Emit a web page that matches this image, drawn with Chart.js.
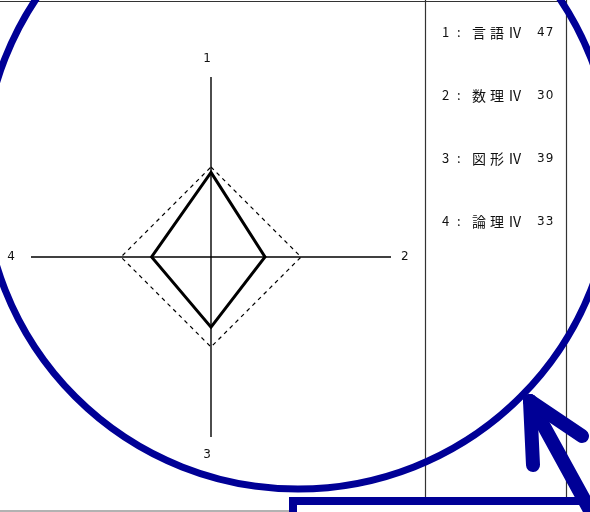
<!DOCTYPE html>
<html>
<head>
<meta charset="utf-8">
<script src="https://cdn.jsdelivr.net/npm/chart.js@4/dist/chart.umd.min.js"></script>
<style>
  html, body { margin: 0; padding: 0; background: #fff; }
  #wrap { position: relative; width: 590px; height: 512px; overflow: hidden; background: #fff; }
  #radar { position: absolute; left: 0; top: 0; }
  .row { position: absolute; left: 440px; height: 16px; line-height: 16px;
         font-family: "Noto Sans CJK JP", "DejaVu Sans", sans-serif; font-size: 13px; color: #111; white-space: nowrap; }
  .row span { position: absolute; top: 0; }
  .row .no { left: 2px; }
  .row .sep { left: 17px; }
  .row .name { left: 32px; font-size: 14px; letter-spacing: 4px; }
  .row .val { left: 97px; letter-spacing: 1px; font-family: "DejaVu Sans", sans-serif; font-size: 12px; }
  svg { position: absolute; left: 0; top: 0; }
</style>
</head>
<body>
<div id="wrap">
  <canvas id="radar" width="590" height="512"></canvas>
  <div id="table"></div>
  <svg width="590" height="512">
    <!-- table frame -->
    <line x1="0" y1="1.5" x2="567" y2="1.5" stroke="#333" stroke-width="1.2"/>
    <line x1="425.5" y1="0" x2="425.5" y2="505" stroke="#333" stroke-width="1.2"/>
    <line x1="566.5" y1="0" x2="566.5" y2="505" stroke="#333" stroke-width="1.2"/>
    <line x1="0" y1="511" x2="292" y2="511" stroke="#999" stroke-width="1.5"/>
    <!-- hand drawn marks -->
    <circle cx="298" cy="174" r="315" fill="none" stroke="#000096" stroke-width="7"/>
    <polyline points="293,512 293,501 592,501" fill="none" stroke="#000096" stroke-width="8"/>
    <g stroke="#000096" stroke-width="14" stroke-linecap="round" fill="none">
      <line x1="530" y1="401" x2="592" y2="514"/>
      <line x1="530" y1="401" x2="533" y2="465"/>
      <line x1="530" y1="401" x2="582" y2="436"/>
    </g>
  </svg>
</div>
<script>
  // 軸ラベル
  const axisLabels = ['1', '2', '3', '4']
  // 検査項目と得点
  const subjects = ['言語Ⅳ', '数理Ⅳ', '図形Ⅳ', '論理Ⅳ']
  const scores = [47, 30, 39, 33]
  // 基準線 (点線)
  const baseline = [50, 50, 50, 50]

  // 右側の表
  const table = document.getElementById('table')
  subjects.forEach((s, i) => {
    const row = document.createElement('div')
    row.className = 'row'
    row.style.top = `${24 + i * 63}px`
    row.innerHTML = `<span class="no">${axisLabels[i]}</span><span class="sep">:</span>` +
      `<span class="name">${s}</span><span class="val">${scores[i]}</span>`
    table.appendChild(row)
  })

  // ラベルの余白 (上, 右, 下, 左)
  const labelPad = [12, 10, 12, 16]

  const chart = new Chart(document.getElementById('radar'), {
    type: 'radar',
    data: {
      labels: axisLabels,
      datasets: [{
        data: scores,
        borderColor: '#000',
        borderWidth: 3,
        fill: false,
        pointRadius: 0,
        tension: 0
      }, {
        data: baseline,
        borderColor: '#000',
        borderWidth: 1.2,
        borderDash: [4, 4],
        fill: false,
        pointRadius: 0,
        tension: 0
      }]
    },
    options: {
      responsive: false,
      animation: false,
      layout: { padding: { left: 4, top: 53, right: 178, bottom: 51 } },
      plugins: { legend: { display: false }, tooltip: { enabled: false } },
      scales: {
        r: {
          min: 0,
          max: 100,
          startAngle: 0,
          grid: { display: false },
          angleLines: { display: true, color: '#000', lineWidth: 1.4 },
          ticks: { display: false },
          pointLabels: {
            padding: (c) => labelPad[c.index],
            color: '#111',
            font: { family: 'DejaVu Sans', size: 12, lineHeight: 1 },
            // 上下のラベルは少し左寄り
            callback: (label, i) => i % 2 === 0 ? label + '\u00a0\u00a0' : label
          }
        }
      }
    }
  })
</script>
</body>
</html>
